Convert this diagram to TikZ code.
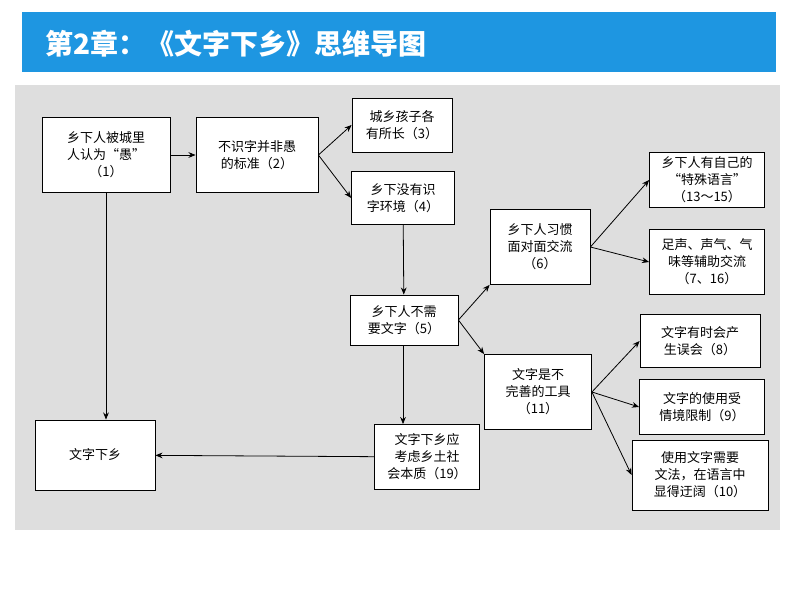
\documentclass[tikz,border=0pt]{standalone}
\usepackage{fontspec}
\setmainfont{Noto Sans CJK SC}
\usetikzlibrary{arrows.meta, positioning}
\definecolor{titleblue}{RGB}{30,150,225}
\definecolor{scan}{RGB}{222,222,222}
\tikzset{%
  >={Stealth[width=2mm,length=2.5mm]},
  % Specifications for style of nodes:
  base/.style = {draw, thick, fill=white, align=center, font=\fontsize{13}{17}\selectfont, inner sep=1pt},
  norm/.style = {->, draw, black, thick}
}
\begin{document}
\begin{tikzpicture}[x=1pt, y=-1pt]
  \useasboundingbox (0,0) rectangle (794,596);
  \fill[white] (0,0) rectangle (794,596);
  \fill[scan] (15,85) rectangle (780,530);
  \fill[titleblue] (22,12) rectangle (776,72);
  \node[anchor=west, text=white, font=\bfseries\fontsize{28}{32}\selectfont] (title) at (42,44) {第2章：《文字下乡》思维导图};
  % Specification of nodes (position, etc.)
  \node (stupid) [base, minimum width=128pt, minimum height=75pt] at (106,155) {乡下人被城里\\人认为“愚”\\（1）};
  \node (standard) [base, minimum width=122pt, minimum height=75pt] at (257,155) {不识字并非愚\\的标准（2）};
  \node (kids) [base, minimum width=100pt, minimum height=54pt] at (402,125) {城乡孩子各\\有所长（3）};
  \node (env) [base, minimum width=103pt, minimum height=53pt] at (403,198) {乡下没有识\\字环境（4）};
  \node (face) [base, minimum width=100pt, minimum height=75pt] at (540,247) {乡下人习惯\\面对面交流\\（6）};
  \node (special) [base, minimum width=115pt, minimum height=55pt] at (707,180) {乡下人有自己的\\“特殊语言”\\（13～15）};
  \node (sound) [base, minimum width=115pt, minimum height=65pt] at (707,262) {足声、声气、气\\味等辅助交流\\（7、16）};
  \node (noneed) [base, minimum width=108pt, minimum height=50pt] at (404,320) {乡下人不需\\要文字（5）};
  \node (tool) [base, minimum width=107pt, minimum height=75pt] at (538,392) {文字是不\\完善的工具\\（11）};
  \node (misread) [base, minimum width=120pt, minimum height=53pt] at (700,341) {文字有时会产\\生误会（8）};
  \node (context) [base, minimum width=125pt, minimum height=55pt] at (702,407) {文字的使用受\\情境限制（9）};
  \node (grammar) [base, minimum width=136pt, minimum height=70pt] at (700,475) {使用文字需要\\文法，在语言中\\显得迂阔（10）};
  \node (essence) [base, minimum width=105pt, minimum height=65pt] at (427,457) {文字下乡应\\考虑乡土社\\会本质（19）};
  \node (goal) [base, minimum width=120pt, minimum height=70pt] at (95,455) {文字下乡};

  \draw [norm] (stupid) -- (standard);
  \draw [norm] (standard.east) -- (kids.west);
  \draw [norm] (standard.east) -- (env.west);
  \draw [norm] (env) -- (noneed);
  \draw [norm] (noneed.east) -- (face.south west);
  \draw [norm] (noneed.east) -- (tool.north west);
  \draw [norm] (face.east) -- (special.west);
  \draw [norm] (face.east) -- (sound.west);
  \draw [norm] (tool.east) -- (misread.west);
  \draw [norm] (tool.east) -- (context.west);
  \draw [norm] (tool.east) -- (grammar.west);
  \draw [norm] (noneed.south -| env.south) -- (essence.north -| env.south);
  \draw [norm] (essence) -- (goal);
  \draw [norm] (stupid) -- (goal.north -| stupid.south);
\end{tikzpicture}
\end{document}
